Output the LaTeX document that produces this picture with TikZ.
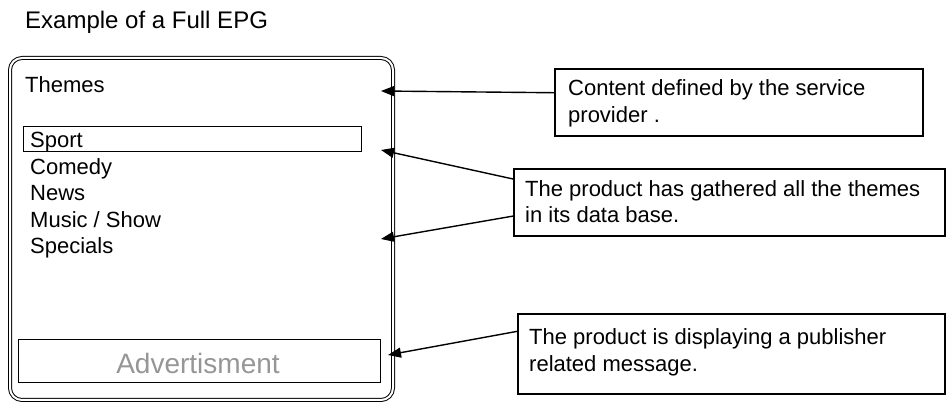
\documentclass[tikz,border=0pt]{standalone}
\usepackage{fontspec}
\setmainfont{Liberation Sans}
\usetikzlibrary{arrows.meta,calc}
\definecolor{adgray}{RGB}{150,150,150}
\begin{document}
\begin{tikzpicture}[x=1pt,y=-1pt,
  txt/.style={anchor=base west, inner sep=0pt, font=\fontsize{22}{26}\selectfont},
  box/.style={draw, line width=1.7pt, inner sep=0pt, anchor=north west},
  arr/.style={line width=1.4pt, -{Triangle[length=13pt,width=10pt]}}]
\useasboundingbox (0,0) rectangle (946,403);

% title
\node[anchor=base west, inner sep=0pt, font=\fontsize{24}{28}\selectfont] (title) at (25,29) {Example of a Full EPG};

% screen
\node[draw, double, double distance=2pt, line width=1pt, rounded corners=12pt,
      minimum width=383pt, minimum height=342pt, anchor=north west, inner sep=0pt] (screen) at (9.5,57.5) {};

\node[txt] (themes) at (25,93) {Themes};
\node[draw, line width=1.4pt, minimum width=338pt, minimum height=25pt, anchor=north west, inner sep=0pt] (sportbox) at (23,126) {};
\node[txt] (sport) at (30,148) {Sport};
\node[txt] (comedy) at (30,175) {Comedy};
\node[txt] (news) at (30,201) {News};
\node[txt] (music) at (30,228) {Music / Show};
\node[txt] (specials) at (30,254) {Specials};

\node[draw, line width=1.4pt, minimum width=362pt, minimum height=43pt, anchor=north west, inner sep=0pt] (adbox) at (18,339) {};
\node[anchor=base, inner sep=0pt, text=adgray, font=\fontsize{28}{32}\selectfont] (adtext) at (198,374) {Advertisment};

% right boxes
\node[box, minimum width=368pt, minimum height=67pt] (b1) at (554,68) {};
\node[txt] (b1l1) at (568,96) {Content defined by the service};
\node[txt] (b1l2) at (568,123) {provider .};

\node[box, minimum width=431pt, minimum height=67pt] (b2) at (513,168) {};
\node[txt] (b2l1) at (525,197) {The product has gathered all the themes};
\node[txt] (b2l2) at (525,223) {in its data base.};

\node[box, minimum width=427pt, minimum height=80pt] (b3) at (517,313) {};
\node[txt] (b3l1) at (529,345) {The product is displaying a publisher};
\node[txt] (b3l2) at (529,372) {related message.};

% arrow tips
\coordinate (t1) at (381,91);
\coordinate (t2) at (381,150);
\coordinate (t3) at (381,239);
\coordinate (t4) at (388,355);

\draw[arr] ($(b1.north west)!0.36!(b1.south west)$) -- (t1);
\draw[arr] ($(b2.north west)!0.16!(b2.south west)$) -- (t2);
\draw[arr] ($(b2.north west)!0.70!(b2.south west)$) -- (t3);
\draw[arr] ($(b3.north west)!0.225!(b3.south west)$) -- (t4);
\end{tikzpicture}
\end{document}
